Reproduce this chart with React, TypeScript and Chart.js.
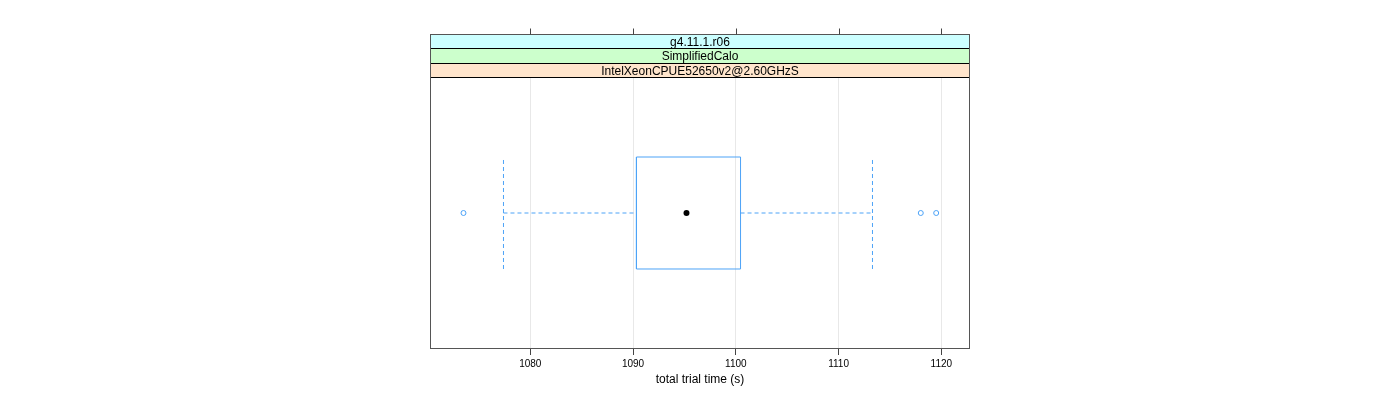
import React, { useEffect, useRef } from "react";
import { Chart, registerables } from "chart.js";

Chart.register(...registerables);

// ---- data ----
const stripLabels = ["g4.11.1.r06", "SimplifiedCalo", "IntelXeonCPUE52650v2@2.60GHzS"];
const stripColors = ["#ccffff", "#ccffcc", "#ffe5cc"];
// [lower whisker, Q1, median, Q3, upper whisker]
const boxStats = [1077.39, 1090.33, 1095.2, 1100.46, 1113.3];
const outliers = [1073.5, 1118.0, 1119.5];
const xTicks = [1080, 1090, 1100, 1110, 1120];
const xRange = [1070.24, 1122.79];
const xTitle = "total trial time (s)";

const BLUE = "#4da3f7";
const CENTER = 0.5;
const HALF = 0.2074;

const stripPlugin = {
  id: "latticeStrips",
  afterDraw(chart: any) {
    const { ctx, chartArea } = chart;
    const left = chartArea.left;
    const right = chartArea.right;
    const top = chartArea.top;
    const bottom = chartArea.bottom;
    const stripTop = 34.5;
    const h = (top - stripTop) / stripLabels.length;
    ctx.save();
    stripLabels.forEach((lab, i) => {
      const y0 = stripTop + i * h;
      ctx.fillStyle = stripColors[i];
      ctx.fillRect(left, y0, right - left, h);
    });
    ctx.strokeStyle = "#000";
    ctx.lineWidth = 1;
    for (let i = 1; i <= stripLabels.length; i++) {
      const y = Math.round(stripTop + i * h) - 0.5;
      ctx.beginPath();
      ctx.moveTo(left, y);
      ctx.lineTo(right, y);
      ctx.stroke();
    }
    ctx.fillStyle = "#000";
    ctx.font = '12px "Liberation Sans", Arial, sans-serif';
    ctx.textAlign = "center";
    ctx.textBaseline = "middle";
    stripLabels.forEach((lab, i) => {
      const y0 = stripTop + i * h;
      ctx.fillText(lab, (left + right) / 2, y0 + h / 2 + 0.5);
    });
    ctx.strokeStyle = "#555";
    ctx.strokeRect(left + 0.5, stripTop, right - left - 1, bottom - stripTop + 0.5);
    const xs = chart.scales.x;
    ctx.strokeStyle = "#444";
    xTicks.forEach((t) => {
      const px = Math.round(xs.getPixelForValue(t)) + 0.5;
      ctx.beginPath();
      ctx.moveTo(px, stripTop);
      ctx.lineTo(px, stripTop - 6);
      ctx.stroke();
    });
    ctx.restore();
  },
};

export default function App() {
  const ref = useRef<HTMLCanvasElement>(null);
  useEffect(() => {
    if (!ref.current) return;
    const [wLo, q1, med, q3, wHi] = boxStats;
    const yTop = CENTER + HALF;
    const yBot = CENTER - HALF;
    const dashed = { borderColor: BLUE, borderWidth: 1, borderDash: [4, 3], pointRadius: 0 };
    const chart = new Chart(ref.current, {
      type: "line",
      data: {
        datasets: [
          {
            data: [
              { x: q1, y: yBot },
              { x: q3, y: yBot },
              { x: q3, y: yTop },
              { x: q1, y: yTop },
              { x: q1, y: yBot },
            ],
            borderColor: BLUE,
            borderWidth: 1,
            pointRadius: 0,
            fill: false,
          },
          { data: [{ x: wLo, y: CENTER }, { x: q1, y: CENTER }], ...dashed },
          { data: [{ x: q3, y: CENTER }, { x: wHi, y: CENTER }], ...dashed },
          { data: [{ x: wLo, y: yBot }, { x: wLo, y: yTop }], ...dashed },
          { data: [{ x: wHi, y: yBot }, { x: wHi, y: yTop }], ...dashed },
          {
            data: outliers.map((v) => ({ x: v, y: CENTER })),
            showLine: false,
            pointRadius: 2.5,
            pointBorderColor: BLUE,
            pointBackgroundColor: "rgba(0,0,0,0)",
            pointBorderWidth: 1,
          },
          {
            data: [{ x: med, y: CENTER }],
            showLine: false,
            pointRadius: 3,
            pointBorderColor: "#000",
            pointBackgroundColor: "#000",
            pointBorderWidth: 0,
          },
        ],
      },
      options: {
        responsive: false,
        animation: false,
        devicePixelRatio: 1,
        layout: { padding: { left: 430, right: 430, top: 78, bottom: 0 } },
        plugins: { legend: { display: false }, tooltip: { enabled: false }, title: { display: false } },
        scales: {
          x: {
            type: "linear",
            position: "bottom",
            min: xRange[0],
            max: xRange[1],
            afterBuildTicks: (s: any) => {
              s.ticks = xTicks.map((v) => ({ value: v }));
            },
            afterFit: (s: any) => {
              s.height = 52;
            },
            grid: {
              color: "#e8e8e8",
              lineWidth: 1,
              tickLength: 7,
              tickColor: "#444",
              drawOnChartArea: true,
            },
            border: { display: false },
            ticks: {
              color: "#000",
              padding: 3,
              maxRotation: 0,
              font: { family: '"Liberation Sans", Arial, sans-serif', size: 10 },
              callback: (v: any) => String(v),
            },
            title: {
              display: true,
              text: xTitle,
              color: "#000",
              padding: { top: 0, bottom: 13 },
              font: { family: '"Liberation Sans", Arial, sans-serif', size: 12 },
            },
          },
          y: {
            type: "linear",
            display: false,
            min: 0,
            max: 1,
          },
        },
      },
      plugins: [stripPlugin],
    });
    return () => chart.destroy();
  }, []);
  return (
    <div style={{ position: "absolute", left: 0, top: 0, width: 1400, height: 400, background: "#fff" }}>
      <canvas ref={ref} width={1400} height={400} style={{ display: "block" }} />
    </div>
  );
}
